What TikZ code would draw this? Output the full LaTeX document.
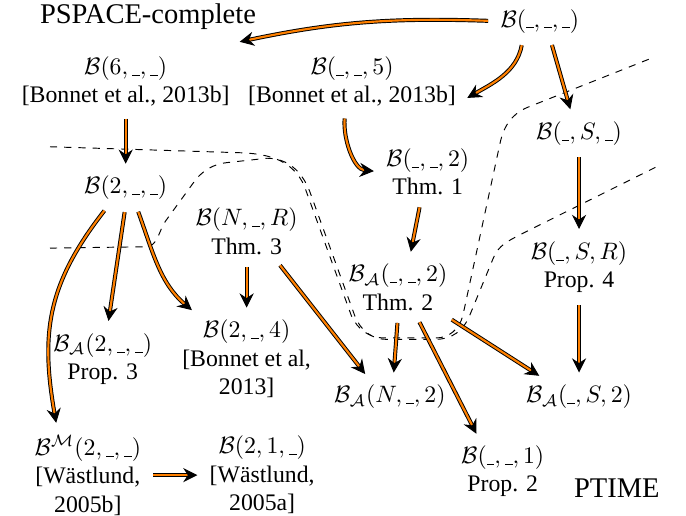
\documentclass[tikz,border=0pt]{standalone}
\usepackage{fontspec}
\setmainfont{Liberation Serif}
\usepackage{tikz}
\usetikzlibrary{arrows.meta, calc}
\definecolor{korange}{HTML}{FF8000}
\newcommand{\hole}{\rule[-0.6pt]{3.2pt}{0.4pt}}

\begin{document}
\begin{tikzpicture}[x=1cm, y=1cm,
  lbl/.style={align=center, inner sep=2pt},
  redu/.style={draw=black, line width=0.4pt, double=korange, double distance=0.9pt,
    -{Stealth[length=6pt, width=6pt, inset=2pt]}, shorten >=3pt, shorten <=3pt},
  border/.style={black, dashed, line width=0.4pt}]

  \useasboundingbox (0,0) rectangle (10.153,7.622);

  %% Complexity classes
  \node[lbl, font=\large] (pspace) at (2.19,7.37) {PSPACE-complete};
  \node[lbl, font=\large] (ptime) at (9.13,0.40) {PTIME};

  %% ── Boundaries ────────────────────────────────────────────────────────
  \draw[border] (0.74,5.45) -- (3.60,5.36) to[out=-3, in=115] (4.50,4.88)
    -- (5.20,2.95) to[out=-65, in=180] (5.70,2.62) -- (6.45,2.62)
    to[out=0, in=-105] (6.85,2.95) -- (7.40,5.50) to[out=78, in=200] (7.85,6.05)
    -- (9.69,6.78);
  \draw[border] (0.74,3.95) -- (2.15,3.97) to[out=0, in=-125] (2.45,4.35)
    -- (2.85,4.90) to[out=55, in=185] (3.40,5.22) -- (3.95,5.28)
    to[out=0, in=112] (4.58,4.80) -- (5.25,2.95) to[out=-68, in=180] (5.72,2.60)
    -- (6.45,2.60) to[out=0, in=-112] (6.95,2.95) -- (7.30,3.80)
    to[out=68, in=208] (7.70,4.15) -- (9.71,5.15);

  %% ── Problems ──────────────────────────────────────────────────────────
  \node[lbl] (top)  at (7.99,7.31) {$\mathcal{B}(\hole,\hole,\hole)$};
  \node[lbl] (b6)   at (1.86,6.42) {$\mathcal{B}(6,\hole,\hole)$\\{[}Bonnet et al., 2013b{]}};
  \node[lbl] (b5)   at (5.21,6.42) {$\mathcal{B}(\hole,\hole,5)$\\{[}Bonnet et al., 2013b{]}};
  \node[lbl] (bS)   at (8.57,5.65) {$\mathcal{B}(\hole,S,\hole)$};
  \node[lbl] (b2)   at (1.86,4.84) {$\mathcal{B}(2,\hole,\hole)$};
  \node[lbl] (bR2)  at (6.33,5.08) {$\mathcal{B}(\hole,\hole,2)$\\Thm. 1};
  \node[lbl] (bNR)  at (3.65,4.20) {$\mathcal{B}(N,\hole,R)$\\Thm. 3};
  \node[lbl] (bSR)  at (8.57,3.67) {$\mathcal{B}(\hole,S,R)$\\Prop. 4};
  \node[lbl] (bA2)  at (5.89,3.37) {$\mathcal{B}_{\mathcal{A}}(\hole,\hole,2)$\\Thm. 2};
  \node[lbl] (bA2u) at (1.52,2.31) {$\mathcal{B}_{\mathcal{A}}(2,\hole,\hole)$\\Prop. 3};
  \node[lbl] (b24)  at (3.65,2.31) {$\mathcal{B}(2,\hole,4)$\\{[}Bonnet et al,\\2013{]}};
  \node[lbl] (bAN)  at (5.77,1.75) {$\mathcal{B}_{\mathcal{A}}(N,\hole,2)$};
  \node[lbl] (bAS)  at (8.57,1.75) {$\mathcal{B}_{\mathcal{A}}(\hole,S,2)$};
  \node[lbl] (b1)   at (7.44,0.65) {$\mathcal{B}(\hole,\hole,1)$\\Prop. 2};
  \node[lbl] (bM)   at (1.30,0.59) {$\mathcal{B}^{\mathcal{M}}(2,\hole,\hole)$\\{[}Wästlund,\\2005b{]}};
  \node[lbl] (b21)  at (3.88,0.59) {$\mathcal{B}(2,1,\hole)$\\{[}Wästlund,\\2005a{]}};

  %% ── Reductions ────────────────────────────────────────────────────────
  \draw[redu] (top.west) to[out=178, in=12] ($(pspace.south east)+(-0.42,-0.12)$);
  \draw[redu] ([xshift=-0.25cm]top.south) to[out=-100, in=30] ([yshift=-0.3cm]b5.east);
  \draw[redu] ([xshift=0.15cm]top.south) -- ([xshift=-0.1cm]bS.north);
  \draw[redu] (b6) -- (b2);
  \draw[redu] ([xshift=-0.1cm]b5.south) to[out=-95, in=175] (bR2.west);
  \draw[redu] ([xshift=-0.1cm]bR2.south) -- ([xshift=0.17cm]bA2.north);
  \draw[redu] (bS) -- (bSR);
  \draw[redu] (bSR) -- (bAS);
  \draw[redu] ([xshift=-0.25cm]b2.south) to[out=-128, in=100, looseness=1.1] ([xshift=-0.45cm]bM.north);
  \draw[redu] (b2.south) -- ([xshift=0.07cm]bA2u.north);
  \draw[redu] ([xshift=0.15cm]b2.south) to[out=-70, in=140] ([xshift=0.3cm]b24.north west);
  \draw[redu] (bNR) -- (b24);
  \draw[redu] ([xshift=0.43cm]bNR.south) -- ([xshift=-0.3cm]bAN.north);
  \draw[redu] (bA2.south) -- ([xshift=0.05cm]bAN.north);
  \draw[redu] ([xshift=0.27cm]bA2.south) -- ([xshift=-0.34cm]b1.north);
  \draw[redu] ([xshift=-0.1cm]bA2.south east) -- ([xshift=-0.5cm]bAS.north);
  \draw[redu] (bM) -- (b21);

\end{tikzpicture}
\end{document}
